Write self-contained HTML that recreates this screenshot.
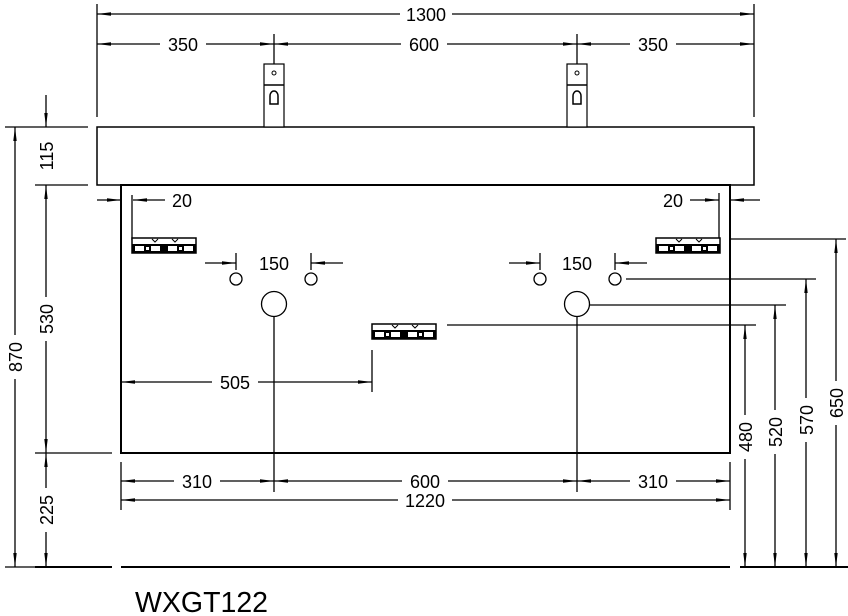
<!DOCTYPE html>
<html><head><meta charset="utf-8"><style>
html,body{margin:0;padding:0;background:#fff}
svg{display:block}
text{font-family:"Liberation Sans",Arial,sans-serif;font-size:18px;fill:#000}
</style></head><body>
<svg width="848" height="616" viewBox="0 0 848 616" xmlns="http://www.w3.org/2000/svg">
<defs>
<marker id="a" viewBox="0 0 14 4" refX="14" refY="2" markerWidth="14" markerHeight="4" markerUnits="userSpaceOnUse" orient="auto-start-reverse">
<path d="M0,0.3 L14,2 L0,3.7 z" fill="#000"/></marker>
<g id="br">
<rect x="0" y="0" width="64" height="15" fill="#fff" stroke="#000" stroke-width="1.5"/>
<rect x="0" y="6" width="64" height="9" fill="#000"/>
<rect x="3" y="8" width="9" height="5" fill="#fff"/><rect x="14" y="9" width="3" height="3" fill="#fff"/><rect x="19" y="8" width="9" height="5" fill="#fff"/>
<rect x="36" y="8" width="9" height="5" fill="#fff"/><rect x="47" y="9" width="3" height="3" fill="#fff"/><rect x="52" y="8" width="9" height="5" fill="#fff"/>
<path d="M20,1 l3,3 l3,-3 M40,1 l3,3 l3,-3" stroke="#000" fill="none" stroke-width="1"/>
</g>
<g id="fc">
<rect x="-10" y="0" width="20" height="63" fill="#fff" stroke="#000" stroke-width="1.2"/>
<line x1="-10" y1="21" x2="10" y2="21" stroke="#000" stroke-width="1.5"/>
<circle cx="0" cy="9" r="2" fill="none" stroke="#000" stroke-width="1"/>
<path d="M-4,40 v-8 a4,5 0 0 1 8,0 v8 z" fill="none" stroke="#000" stroke-width="1.5"/>
</g>
</defs>
<g stroke="#000" fill="none" stroke-width="1.3">
<rect x="97" y="127" width="657" height="58" stroke-width="1.5"/>
<rect x="121" y="185" width="609" height="268" stroke-width="2"/>
<line x1="97" y1="4" x2="97" y2="117"/><line x1="754" y1="4" x2="754" y2="117"/>
<line x1="97" y1="14" x2="754" y2="14" marker-start="url(#a)" marker-end="url(#a)"/>
<line x1="97" y1="44" x2="274" y2="44" marker-start="url(#a)" marker-end="url(#a)"/>
<line x1="274" y1="44" x2="577" y2="44" marker-start="url(#a)" marker-end="url(#a)"/>
<line x1="577" y1="44" x2="754" y2="44" marker-start="url(#a)" marker-end="url(#a)"/>
<line x1="274" y1="34" x2="274" y2="64"/><line x1="577" y1="34" x2="577" y2="64"/>
<line x1="5" y1="127" x2="88" y2="127"/>
<line x1="35" y1="185" x2="88" y2="185"/>
<line x1="35" y1="453" x2="112" y2="453"/>
<line x1="15" y1="127" x2="15" y2="567" marker-start="url(#a)" marker-end="url(#a)"/>
<line x1="46" y1="95" x2="46" y2="127" marker-end="url(#a)"/>
<line x1="46" y1="185" x2="46" y2="453" marker-start="url(#a)" marker-end="url(#a)"/>
<line x1="46" y1="453" x2="46" y2="567" marker-start="url(#a)" marker-end="url(#a)"/>
<line x1="5" y1="567" x2="35" y2="567"/>
<line x1="35" y1="567" x2="112" y2="567" stroke-width="2"/>
<line x1="121" y1="567" x2="730" y2="567" stroke-width="2"/>
<line x1="740" y1="567" x2="848" y2="567" stroke-width="2"/>
<line x1="97" y1="200" x2="121" y2="200" marker-end="url(#a)"/>
<line x1="165" y1="200" x2="133" y2="200" marker-end="url(#a)"/>
<line x1="132" y1="195" x2="132" y2="240"/>
<line x1="690" y1="200" x2="719" y2="200" marker-end="url(#a)"/>
<line x1="760" y1="200" x2="730" y2="200" marker-end="url(#a)"/>
<line x1="719" y1="193" x2="719" y2="238"/>
<line x1="236" y1="253" x2="236" y2="270"/><line x1="311" y1="253" x2="311" y2="270"/>
<line x1="205" y1="263" x2="236" y2="263" marker-end="url(#a)"/>
<line x1="343" y1="263" x2="311" y2="263" marker-end="url(#a)"/>
<line x1="540" y1="253" x2="540" y2="270"/><line x1="615" y1="253" x2="615" y2="270"/>
<line x1="509" y1="263" x2="540" y2="263" marker-end="url(#a)"/>
<line x1="647" y1="263" x2="615" y2="263" marker-end="url(#a)"/>
<circle cx="236" cy="279" r="6"/><circle cx="311" cy="279" r="6"/>
<circle cx="540" cy="279" r="6"/><circle cx="615" cy="279" r="6"/>
<circle cx="274" cy="304" r="12.5"/><circle cx="577" cy="304" r="12.5"/>
<line x1="274" y1="316" x2="274" y2="492"/><line x1="577" y1="316" x2="577" y2="492"/>
<line x1="372" y1="350" x2="372" y2="392"/>
<line x1="121" y1="382" x2="372" y2="382" marker-start="url(#a)" marker-end="url(#a)"/>
<line x1="447" y1="325" x2="756" y2="325"/>
<line x1="590" y1="305" x2="786" y2="305"/>
<line x1="626" y1="279" x2="816" y2="279"/>
<line x1="730" y1="239" x2="846" y2="239"/>
<line x1="745" y1="567" x2="745" y2="325" marker-start="url(#a)" marker-end="url(#a)"/>
<line x1="775" y1="567" x2="775" y2="305" marker-start="url(#a)" marker-end="url(#a)"/>
<line x1="806" y1="567" x2="806" y2="279" marker-start="url(#a)" marker-end="url(#a)"/>
<line x1="836" y1="567" x2="836" y2="239" marker-start="url(#a)" marker-end="url(#a)"/>
<line x1="121" y1="462" x2="121" y2="510"/><line x1="730" y1="462" x2="730" y2="510"/>
<line x1="121" y1="481" x2="274" y2="481" marker-start="url(#a)" marker-end="url(#a)"/>
<line x1="274" y1="481" x2="577" y2="481" marker-start="url(#a)" marker-end="url(#a)"/>
<line x1="577" y1="481" x2="730" y2="481" marker-start="url(#a)" marker-end="url(#a)"/>
<line x1="121" y1="500" x2="730" y2="500" marker-start="url(#a)" marker-end="url(#a)"/>
</g>
<use href="#fc" x="274" y="64"/><use href="#fc" x="577" y="64"/>
<use href="#br" x="132" y="238"/><use href="#br" x="656" y="238"/><use href="#br" x="372" y="324"/>
<g fill="#fff">
<rect x="400" y="4" width="52" height="20"/>
<rect x="160" y="34" width="46" height="20"/><rect x="401" y="34" width="46" height="20"/><rect x="630" y="34" width="46" height="20"/>
<rect x="166" y="190" width="32" height="20"/><rect x="657" y="190" width="32" height="20"/>
<rect x="253" y="253" width="42" height="20"/><rect x="556" y="253" width="42" height="20"/>
<rect x="212" y="372" width="46" height="20"/>
<rect x="174" y="471" width="46" height="20"/><rect x="402" y="471" width="46" height="20"/><rect x="630" y="471" width="46" height="20"/>
<rect x="398" y="490" width="54" height="20"/>
<rect x="36" y="136" width="20" height="40"/><rect x="36" y="297" width="20" height="44"/><rect x="5" y="335" width="20" height="44"/><rect x="36" y="488" width="20" height="44"/>
<rect x="735" y="415" width="20" height="44"/><rect x="765" y="410" width="20" height="44"/><rect x="796" y="398" width="20" height="44"/><rect x="826" y="381" width="20" height="44"/>
</g>
<g text-anchor="middle">
<text x="426" y="21">1300</text>
<text x="183" y="51">350</text><text x="424" y="51">600</text><text x="653" y="51">350</text>
<text x="182" y="207">20</text><text x="673" y="207">20</text>
<text x="274" y="270">150</text><text x="577" y="270">150</text>
<text x="235" y="389">505</text>
<text x="197" y="488">310</text><text x="425" y="488">600</text><text x="653" y="488">310</text>
<text x="425" y="507">1220</text>
<text transform="translate(53,156) rotate(-90)">115</text>
<text transform="translate(53,319) rotate(-90)">530</text>
<text transform="translate(22,357) rotate(-90)">870</text>
<text transform="translate(53,510) rotate(-90)">225</text>
<text transform="translate(752,437) rotate(-90)">480</text>
<text transform="translate(782,432) rotate(-90)">520</text>
<text transform="translate(813,420) rotate(-90)">570</text>
<text transform="translate(843,403) rotate(-90)">650</text>
</g>
<text x="135" y="612" style="font-size:28.5px">WXGT122</text>
</svg>
</body></html>
